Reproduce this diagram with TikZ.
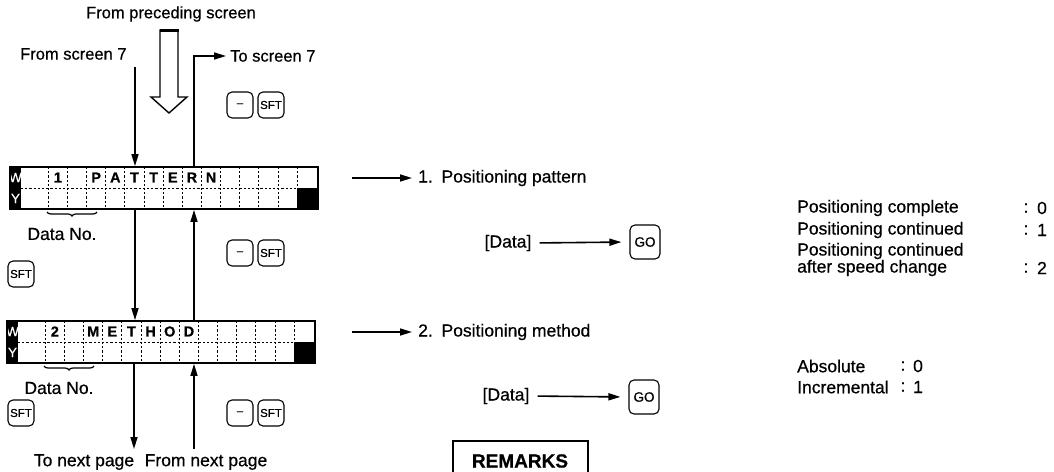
\documentclass[tikz,border=0pt]{standalone}
\usepackage{fontspec}
\setmainfont{Liberation Sans}[FakeBold=0.6]
\usetikzlibrary{arrows.meta,decorations.pathreplacing,calc}

\begin{document}
\begin{tikzpicture}[x=1pt,y=-1pt,
  every node/.style={inner sep=0pt, font=\fontsize{16.5}{19}\selectfont},
  bigtext/.style={font=\fontsize{17.5}{20}\selectfont},
  arr/.style={-{Triangle[length=12pt,width=7pt]}, line width=1.6pt},
  keybox/.style={draw, line width=1.1pt, rounded corners=5pt, minimum width=26pt,
    minimum height=26pt, font=\fontsize{11.5}{13}\selectfont},
  gobox/.style={keybox, minimum width=30pt, minimum height=34pt, font=\fontsize{13.5}{15}\selectfont},
  lcdbox/.style={draw, line width=1.8pt, minimum width=308pt, minimum height=42pt},
  lcdchar/.style={font=\fontsize{14.5}{16}\selectfont\bfseries},
  celldash/.style={line width=1pt, dash pattern=on 2.2pt off 2pt},
  lcdgrid/.pic={
    \fill[black] (0,0) rectangle (11,42);
    \fill[black] (287.3,21) rectangle (308,42);
    \draw[celldash] (11,21) -- (287.3,21);
    \foreach \k in {0,...,13} \draw[celldash] ({38.3+\k*19.15},0) -- ++(0,42);
    \node[white, font=\fontsize{13.5}{14}\selectfont] (w) at (5.5,10.5) {W};
    \node[white, font=\fontsize{13.5}{14}\selectfont] (y) at (5.5,31.5) {Y};
  }]
\useasboundingbox (0,0) rectangle (1054,471);
\clip (0,0) rectangle (1054,471);

% ---- headings above the first display
\node (prec) at (171,14) {From preceding screen};
\node[anchor=west] (fs7) at (20,54) {From screen 7};
\node[anchor=west] (ts7) at (230,56) {To screen 7};

% hollow arrow from the preceding screen
\draw[line width=1.4pt, line join=miter]
  (160,30) -- (178,30) -- (178,97) -- (187,97) -- (169,113) -- (151,97) -- (160,97) -- cycle;
\draw[line width=3pt] (159.5,30.5) -- (178.5,30.5);

% ---- the two displays
\pic (g1) at (10,167) {lcdgrid};
\node[lcdbox] (lcd1) at (164,188) {};
\foreach \k/\c in {0/1,2/P,3/A,4/T,5/T,6/E,7/R,8/N}
  \node[lcdchar] (p\k) at ({10+38.3+(\k+0.5)*19.15},177.5) {\c};

\pic (g2) at (7,321) {lcdgrid};
\node[lcdbox] (lcd2) at (161,342) {};
\foreach \k/\c in {0/2,2/M,3/E,4/T,5/H,6/O,7/D}
  \node[lcdchar] (m\k) at ({7+38.3+(\k+0.5)*19.15},331.5) {\c};

% data number braces
\draw[decorate, decoration={brace, mirror, amplitude=4pt}, line width=1.2pt] (47,212) -- (97,212);
\node[bigtext] (dn1) at (62,234) {Data No.};
\draw[decorate, decoration={brace, mirror, amplitude=4pt}, line width=1.2pt] (44,366) -- (94,366);
\node[bigtext] (dn2) at (59,388) {Data No.};

% ---- keys
\node[keybox] (mk1) at (240,105) {--};
\node[keybox] (sk1) at (271,105) {SFT};
\node[keybox] (sk2) at (21,274) {SFT};
\node[keybox] (mk2) at (240,253) {--};
\node[keybox] (sk3) at (271,253) {SFT};
\node[keybox] (sk4) at (21,413) {SFT};
\node[keybox] (mk3) at (240,413) {--};
\node[keybox] (sk5) at (271,413) {SFT};

% ---- vertical flow between screens
\coordinate (ca) at (135,67);
\coordinate (cb) at (194,56);
\draw[arr] (ca) -- (ca |- lcd1.north);
\draw[arr] (ca |- lcd1.south) -- (ca |- lcd2.north);
\draw[arr, shorten >=4pt] (cb |- lcd1.north) -- (cb) -- (ts7.west);
\draw[arr] (cb |- lcd2.north) -- (cb |- lcd1.south);

\coordinate (cd) at (134,449);
\coordinate (cu) at (194,449);
\draw[arr] (cd |- lcd2.south) -- (cd);
\draw[arr] (cu) -- (cu |- lcd2.south);
\node[bigtext] (tnp) at (84,462) {To next page};
\node[bigtext] (fnp) at (206,462) {From next page};

% ---- item titles
\node[anchor=west, bigtext] (it1) at (418,178) {1.\enspace Positioning pattern};
\node[anchor=west, bigtext] (it2) at (418,332) {2.\enspace Positioning method};
\coordinate (r1) at (352,178);
\coordinate (r2) at (352,332);
\draw[arr, shorten >=6pt] (r1) -- (it1.west);
\draw[arr, shorten >=6pt] (r2) -- (it2.west);

% ---- data entry
\node[bigtext] (dt1) at (508,243) {[Data]};
\node[gobox] (go1) at (645,242) {GO};
\draw[arr, shorten <=8pt, shorten >=8pt] (dt1.east) -- (go1.west);
\node[bigtext] (dt2) at (506,396) {[Data]};
\node[gobox] (go2) at (644,397) {GO};
\draw[arr, shorten <=8pt, shorten >=8pt] (dt2.east) -- (go2.west);

% ---- remarks heading
\node[draw, line width=2pt, minimum width=135pt, minimum height=40pt,
      font=\fontsize{19}{22}\selectfont\bfseries] (rem) at (520,461) {REMARKS};

% ---- setting values
\begin{scope}[every node/.append style={bigtext}]
\node[anchor=west] (v1) at (797,208) {Positioning complete};
\node[anchor=west] (v2) at (797,230) {Positioning continued};
\node[anchor=west] (v3) at (797,251) {Positioning continued};
\node[anchor=west] (v3b) at (797,268) {after speed change};
\node (v1c) at (1026,208) {:}; \node (v1n) at (1042,208) {0};
\node (v2c) at (1026,230) {:}; \node (v2n) at (1042,230) {1};
\node (v3c) at (1026,268) {:}; \node (v3n) at (1042,268) {2};

\node[anchor=west] (a1) at (797,366) {Absolute};
\node[anchor=west] (a2) at (797,387) {Incremental};
\node (a1c) at (903,366) {:}; \node (a1n) at (918,366) {0};
\node (a2c) at (903,387) {:}; \node (a2n) at (918,387) {1};
\end{scope}
\end{tikzpicture}
\end{document}
